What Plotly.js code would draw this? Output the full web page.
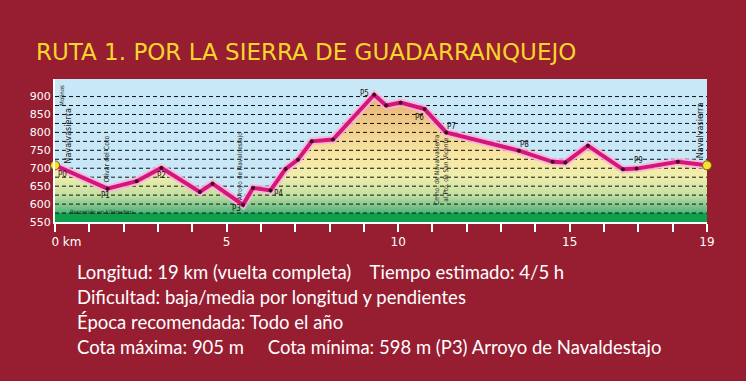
<!DOCTYPE html>
<html>
<head>
<meta charset="utf-8">
<script src="https://cdn.plot.ly/plotly-3.0.1.min.js"></script>
<style>
  html, body { margin: 0; padding: 0; background: #971d31; }
  #chart { width: 746px; height: 381px; }
</style>
</head>
<body>
<div id="chart"></div>
<script>
// ---- Data ----
const distanceKm = [0, 1.53, 2.38, 3.1, 4.22, 4.59, 5.48, 5.77, 6.28, 6.72, 7.08, 7.48, 8.1, 9.3, 9.65, 10.07, 10.77, 11.4, 13.52, 14.5, 14.87, 15.53, 16.55, 16.95, 18.15, 19];
const elevationM = [708, 643, 664, 701, 634, 657, 598, 645, 638, 698, 724, 775, 780, 905, 875, 883, 865, 800, 749, 718, 716, 763, 697, 699, 718, 708];

const pointNames = ['P0', 'P1', 'P2', 'P3', 'P4', 'P5', 'P6', 'P7', 'P8', 'P9'];
const pointIndex = [0, 1, 3, 6, 8, 13, 16, 17, 18, 23];
const pointShiftX = [7, -2, 0, -7, 8, -10, -5, 5, 6, 2];
const pointShiftY = [-9, -7, -8, -4, -3, 1, -8, 6, 6, 8];

const gridLevels = [575, 600, 625, 650, 675, 700, 725, 750, 775, 800, 825, 850, 875, 900];
const xTickVals = [0, 5, 10, 15, 19];
const xTickText = ['\u00a0\u00a0\u00a0\u00a0\u00a0\u00a00 km', '5', '10', '15', '19'];
const yTickVals = [550, 600, 650, 700, 750, 800, 850, 900];

const placeLabels = [
  {text: 'Navalvasierra', x: 0.38, y: 791, size: 9},
  {text: 'Molinos', x: 0.2, y: 905, size: 6},
  {text: 'Olivar del Coto', x: 1.51, y: 727, size: 7},
  {text: 'Arroyo de Navaldestajo', x: 5.38, y: 707, size: 6.5},
  {text: 'Cmno. de Navalvasierra<br>al Pto. de San Vicente', x: 11.25, y: 696, size: 6.5},
  {text: 'Navalvasierra', x: 18.78, y: 807, size: 9}
];

const infoLines = [
  'Longitud: 19 km (vuelta completa)\u00a0\u00a0\u00a0\u00a0Tiempo estimado: 4/5 h',
  'Dificultad: baja/media por longitud y pendientes',
  'Época recomendada: Todo el año',
  'Cota máxima: 905 m\u00a0\u00a0\u00a0\u00a0\u00a0Cota mínima: 598 m (P3) Arroyo de Navaldestajo'
];
const infoLineY = [272, 297, 322, 347];

// ---- Traces ----
const gridX = [], gridY = [];
gridLevels.forEach(v => { gridX.push(0, 19, null); gridY.push(v, v, null); });

const innerIdx = distanceKm.map((d, i) => i).filter(i => i > 0 && i < distanceKm.length - 1);
const endIdx = [0, distanceKm.length - 1];

const traces = [
  { // elevation-banded fill
    x: distanceKm, y: elevationM, type: 'scatter', mode: 'none',
    fill: 'tozeroy',
    fillgradient: {
      type: 'vertical', start: 550, stop: 910,
      colorscale: [
        [0.0, '#0f9f4d'], [0.069, '#0f9f4d'],
        [0.07, '#4fb47a'], [0.14, '#8cca90'],
        [0.21, '#c4e0a2'], [0.35, '#eeeeac'],
        [0.5, '#f8e8a4'], [0.65, '#f4d896'],
        [0.8, '#eec686'], [1.0, '#e4ae6e']
      ]
    },
    hoverinfo: 'skip', showlegend: false
  },
  { // dashed grid
    x: gridX, y: gridY, type: 'scatter', mode: 'lines',
    line: {color: '#111', width: 1, dash: '4px,3px'},
    hoverinfo: 'skip', showlegend: false
  },
  { // pale halo
    x: distanceKm, y: elevationM, type: 'scatter', mode: 'lines',
    line: {color: 'rgba(250,180,215,0.85)', width: 8},
    hoverinfo: 'skip', showlegend: false
  },
  { // profile
    x: distanceKm, y: elevationM, type: 'scatter', mode: 'lines',
    line: {color: '#d4167c', width: 4},
    hoverinfo: 'skip', showlegend: false
  },
  { // vertex dots
    x: innerIdx.map(i => distanceKm[i]), y: innerIdx.map(i => elevationM[i]),
    type: 'scatter', mode: 'markers',
    marker: {color: '#3a0d22', size: 4},
    hoverinfo: 'skip', showlegend: false
  },
  { // start / end
    x: endIdx.map(i => distanceKm[i]), y: endIdx.map(i => elevationM[i]),
    type: 'scatter', mode: 'markers', cliponaxis: false,
    marker: {color: '#f6e22a', size: 9, line: {color: '#6a5a10', width: 1}},
    hoverinfo: 'skip', showlegend: false
  }
];

// ---- Annotations ----
const annotations = [];
pointNames.forEach((name, k) => {
  const i = pointIndex[k];
  annotations.push({
    x: distanceKm[i], y: elevationM[i], text: name, showarrow: false,
    xshift: pointShiftX[k], yshift: pointShiftY[k],
    font: {family: 'DejaVu Sans Condensed, DejaVu Sans', size: 8, color: '#161616'}
  });
});
placeLabels.forEach(p => {
  annotations.push({
    x: p.x, y: p.y, text: p.text, showarrow: false, textangle: -90,
    font: {family: 'DejaVu Sans Condensed, DejaVu Sans', size: p.size, color: '#1a1a1a'}
  });
});
annotations.push({
  x: 0.38, y: 580, xanchor: 'left', text: 'Recorrido en kilómetros', showarrow: false,
  font: {family: 'DejaVu Sans Condensed, DejaVu Sans', size: 6, color: '#10301c'}
});
infoLines.forEach((t, i) => {
  annotations.push({
    xref: 'paper', yref: 'paper',
    x: (75 - 55) / 652, y: (222 - infoLineY[i]) / 143,
    xanchor: 'left', yanchor: 'middle', align: 'left',
    text: t, showarrow: false,
    font: {family: 'Lato, Open Sans', size: 18.5, color: '#ffffff'}
  });
});

const layout = {
  width: 746, height: 381,
  paper_bgcolor: '#971d31', plot_bgcolor: '#c8e8f8',
  margin: {l: 55, r: 39, t: 79, b: 159, pad: 0},
  title: {
    text: 'RUTA 1. POR LA SIERRA DE GUADARRANQUEJO',
    xref: 'container', yref: 'container',
    x: 36 / 746, xanchor: 'left', y: 1 - 52 / 381, yanchor: 'middle',
    font: {family: 'DejaVu Sans', size: 23, color: '#f6d62c'}
  },
  xaxis: {
    range: [0, 19], showgrid: false, zeroline: false,
    tickmode: 'array', tickvals: xTickVals, ticktext: xTickText,
    ticks: 'outside', ticklen: 8, tickwidth: 2, tickcolor: '#ffffff',
    minor: {tickmode: 'linear', tick0: 0, dtick: 1, ticks: 'outside', ticklen: 8, tickwidth: 2, tickcolor: '#ffffff', showgrid: false},
    showline: true, linecolor: '#ffffff', linewidth: 2,
    tickfont: {family: 'DejaVu Sans', size: 12, color: '#ffffff'},
    fixedrange: true
  },
  yaxis: {
    range: [550, 949], showgrid: false, zeroline: false,
    tickmode: 'array', tickvals: yTickVals,
    ticks: '', showline: true, linecolor: '#ffffff', linewidth: 2,
    tickfont: {family: 'DejaVu Sans', size: 11, color: '#ffffff'},
    fixedrange: true
  },
  annotations: annotations,
  showlegend: false
};

Plotly.newPlot('chart', traces, layout, {displayModeBar: false, staticPlot: true});
</script>
</body>
</html>
